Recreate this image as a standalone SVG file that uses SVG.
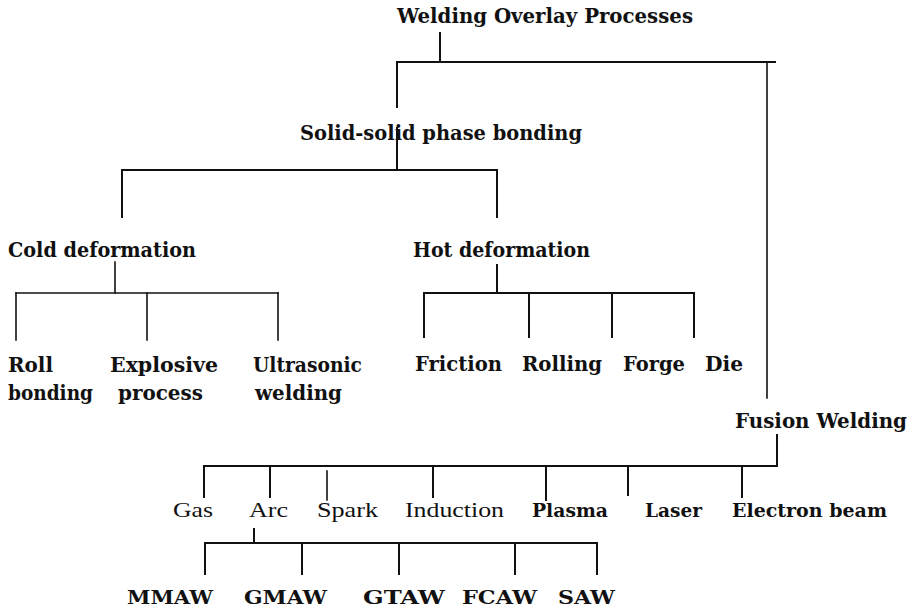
<svg xmlns="http://www.w3.org/2000/svg" width="918" height="611" viewBox="0 0 918 611">
<style>
.b{font-family:"DejaVu Serif","Liberation Serif",serif;font-weight:bold;font-size:20px;fill:#111}
.m{font-family:"DejaVu Serif","Liberation Serif",serif;font-weight:bold;font-size:19px;fill:#111}
.r{font-family:"Liberation Serif","Times New Roman",serif;font-size:21px;fill:#111}
.c line{stroke:#111;stroke-width:2;stroke-linecap:square}
.c .t{stroke-width:1.6}
</style>
<rect width="918" height="611" fill="#fff"/>
<g id="connectors" class="c">
<line x1="440" y1="33" x2="440" y2="62"/>
<line x1="397" y1="62" x2="775" y2="62"/>
<line x1="397" y1="62" x2="397" y2="107"/>
<line x1="767" y1="62" x2="767" y2="398" class="t"/>
<line x1="397" y1="128" x2="397" y2="170"/>
<line x1="122" y1="170" x2="497" y2="170"/>
<line x1="122" y1="170" x2="122" y2="217"/>
<line x1="497" y1="170" x2="497" y2="217"/>
<line x1="115" y1="262" x2="115" y2="293" class="t"/>
<line x1="16" y1="293" x2="278" y2="293" class="t"/>
<line x1="16" y1="293" x2="16" y2="340" class="t"/>
<line x1="147" y1="293" x2="147" y2="340" class="t"/>
<line x1="278" y1="293" x2="278" y2="340" class="t"/>
<line x1="497" y1="265" x2="497" y2="293"/>
<line x1="424" y1="293" x2="694" y2="293"/>
<line x1="424" y1="293" x2="424" y2="337"/>
<line x1="529" y1="293" x2="529" y2="337"/>
<line x1="612" y1="293" x2="612" y2="337"/>
<line x1="694" y1="293" x2="694" y2="337"/>
<line x1="777" y1="435" x2="777" y2="466"/>
<line x1="204" y1="466" x2="777" y2="466"/>
<line x1="204" y1="466" x2="204" y2="497"/>
<line x1="270" y1="466" x2="270" y2="497"/>
<line x1="327" y1="471" x2="327" y2="500" class="t"/>
<line x1="433" y1="466" x2="433" y2="497"/>
<line x1="546" y1="466" x2="546" y2="500"/>
<line x1="628" y1="466" x2="628" y2="495"/>
<line x1="742" y1="466" x2="742" y2="497"/>
<line x1="254" y1="529" x2="254" y2="543"/>
<line x1="205" y1="543" x2="597" y2="543"/>
<line x1="205" y1="543" x2="205" y2="574"/>
<line x1="302" y1="543" x2="302" y2="574"/>
<line x1="399" y1="543" x2="399" y2="574"/>
<line x1="515" y1="543" x2="515" y2="574"/>
<line x1="597" y1="543" x2="597" y2="574"/>
</g>
<g id="n-root"><text class="b" x="397" y="23" textLength="296" lengthAdjust="spacingAndGlyphs">Welding Overlay Processes</text></g>
<g id="n-solid"><text class="b" x="300" y="140" textLength="282" lengthAdjust="spacingAndGlyphs">Solid-solid phase bonding</text></g>
<g id="n-cold"><text class="b" x="8" y="257" textLength="188" lengthAdjust="spacingAndGlyphs">Cold deformation</text></g>
<g id="n-hot"><text class="b" x="413" y="257" textLength="177" lengthAdjust="spacingAndGlyphs">Hot deformation</text></g>
<g id="n-roll"><text class="b" x="8" y="372" textLength="45" lengthAdjust="spacingAndGlyphs">Roll</text><text class="b" x="8" y="400" textLength="85" lengthAdjust="spacingAndGlyphs">bonding</text></g>
<g id="n-explosive"><text class="b" x="110" y="372" textLength="108" lengthAdjust="spacingAndGlyphs">Explosive</text><text class="b" x="118" y="400" textLength="85" lengthAdjust="spacingAndGlyphs">process</text></g>
<g id="n-ultrasonic"><text class="b" x="253" y="372" textLength="109" lengthAdjust="spacingAndGlyphs">Ultrasonic</text><text class="b" x="255" y="400" textLength="87" lengthAdjust="spacingAndGlyphs">welding</text></g>
<g id="n-friction"><text class="b" x="415" y="371" textLength="87" lengthAdjust="spacingAndGlyphs">Friction</text></g>
<g id="n-rolling"><text class="b" x="522" y="371" textLength="80" lengthAdjust="spacingAndGlyphs">Rolling</text></g>
<g id="n-forge"><text class="b" x="623" y="371" textLength="62" lengthAdjust="spacingAndGlyphs">Forge</text></g>
<g id="n-die"><text class="b" x="705" y="371" textLength="38" lengthAdjust="spacingAndGlyphs">Die</text></g>
<g id="n-fusion"><text class="b" x="735" y="428" textLength="172" lengthAdjust="spacingAndGlyphs">Fusion Welding</text></g>
<g id="n-gas"><text class="r" x="173" y="517" textLength="40" lengthAdjust="spacingAndGlyphs">Gas</text></g>
<g id="n-arc"><text class="r" x="249" y="517" textLength="39" lengthAdjust="spacingAndGlyphs">Arc</text></g>
<g id="n-spark"><text class="r" x="317" y="517" textLength="61" lengthAdjust="spacingAndGlyphs">Spark</text></g>
<g id="n-induction"><text class="r" x="405" y="517" textLength="99" lengthAdjust="spacingAndGlyphs">Induction</text></g>
<g id="n-plasma"><text class="m" x="532" y="517" textLength="76" lengthAdjust="spacingAndGlyphs">Plasma</text></g>
<g id="n-laser"><text class="m" x="645" y="517" textLength="57" lengthAdjust="spacingAndGlyphs">Laser</text></g>
<g id="n-electron"><text class="m" x="732" y="517" textLength="155" lengthAdjust="spacingAndGlyphs">Electron beam</text></g>
<g id="n-mmaw"><text class="m" x="127" y="604" textLength="86" lengthAdjust="spacingAndGlyphs">MMAW</text></g>
<g id="n-gmaw"><text class="m" x="244" y="604" textLength="83" lengthAdjust="spacingAndGlyphs">GMAW</text></g>
<g id="n-gtaw"><text class="m" x="363" y="604" textLength="82" lengthAdjust="spacingAndGlyphs">GTAW</text></g>
<g id="n-fcaw"><text class="m" x="462" y="604" textLength="75" lengthAdjust="spacingAndGlyphs">FCAW</text></g>
<g id="n-saw"><text class="m" x="558" y="604" textLength="57" lengthAdjust="spacingAndGlyphs">SAW</text></g>
</svg>
